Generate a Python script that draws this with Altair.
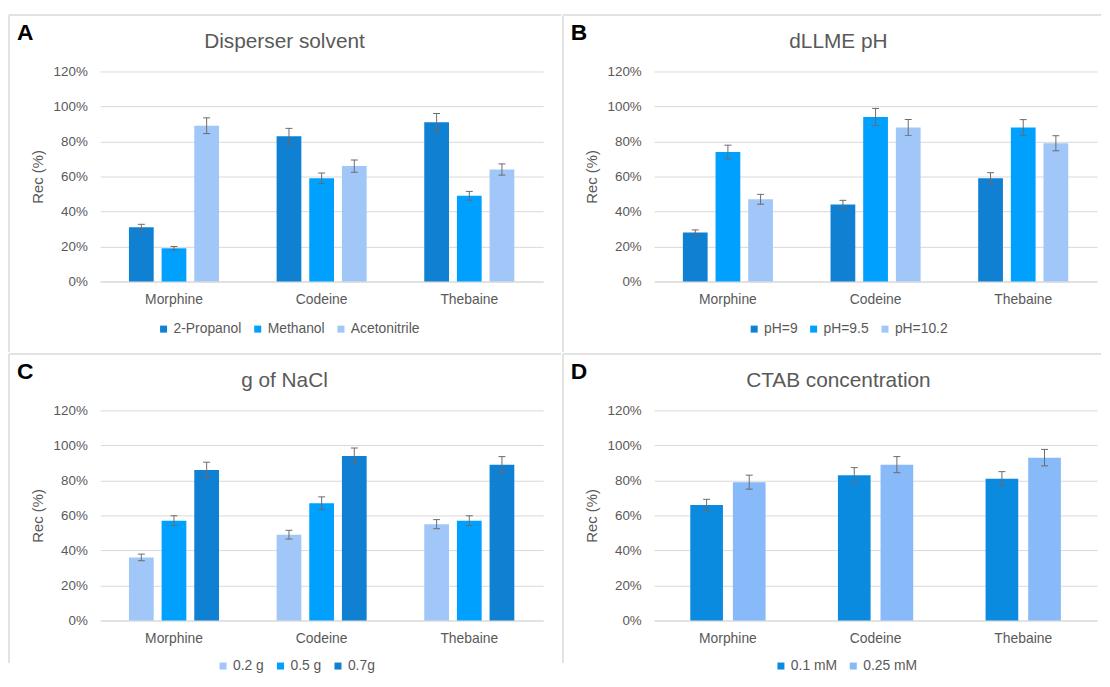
import altair as alt
import pandas as pd

FONT = "Liberation Sans"
TXT = "#595959"
GRID = "#D9D9D9"
ERR = "#6b6b6b"

compounds = ["Morphine", "Codeine", "Thebaine"]

# Panel A: Disperser solvent
a_series = ["2-Propanol", "Methanol", "Acetonitrile"]
a_values = [[31, 19, 89], [83, 59, 66], [91, 49, 64]]
a_errors = [[1.7, 1.0, 4.5], [4.5, 3.0, 3.5], [5.0, 2.5, 3.2]]
a_colors = ["#0F80D2", "#00A1FE", "#A0C7F8"]

# Panel B: dLLME pH
b_series = ["pH=9", "pH=9.5", "pH=10.2"]
b_values = [[28, 74, 47], [44, 94, 88], [59, 88, 79]]
b_errors = [[1.5, 3.9, 2.8], [2.4, 4.9, 4.5], [3.2, 4.5, 4.3]]
b_colors = ["#0F80D2", "#00A1FE", "#A0C7F8"]

# Panel C: g of NaCl
c_series = ["0.2 g", "0.5 g", "0.7g"]
c_values = [[36, 57, 86], [49, 67, 94], [55, 57, 89]]
c_errors = [[1.9, 2.8, 4.4], [2.5, 3.6, 4.5], [2.6, 2.8, 4.6]]
c_colors = ["#A0C7F8", "#00A1FE", "#0F80D2"]

# Panel D: CTAB concentration
d_series = ["0.1 mM", "0.25 mM"]
d_values = [[66, 79], [83, 89], [81, 93]]
d_errors = [[3.2, 4.0], [4.3, 4.6], [4.0, 4.7]]
d_colors = ["#0B8BE0", "#88B9F8"]

y_ticks = [0, 20, 40, 60, 80, 100, 120]

W, H = 447, 212
TOP = -57
LEFT = -92


def make_df(series, values, errors):
    rows = []
    for ci, comp in enumerate(compounds):
        for si, s in enumerate(series):
            v = values[ci][si]
            e = errors[ci][si]
            rows.append({"compound": comp, "series": s, "value": v,
                         "lo": v - e, "hi": v + e})
    return pd.DataFrame(rows)


def panel(letter, title, series, values, errors, colors, legend_x,
          pad_inner, off_inner, right_ext, bottom_ext, legend_y):
    df = make_df(series, values, errors)
    one = pd.DataFrame({"k": [0]})

    x = alt.X("compound:N", sort=compounds,
              scale=alt.Scale(paddingInner=pad_inner, paddingOuter=pad_inner / 2),
              axis=alt.Axis(title=None, labelAngle=0, ticks=False,
                            domainColor=GRID, domainWidth=1,
                            labelFont=FONT, labelFontSize=14, labelColor=TXT,
                            labelPadding=11, grid=False))
    xo = alt.XOffset("series:N", sort=series,
                     scale=alt.Scale(domain=series, paddingInner=off_inner, paddingOuter=0))
    yscale = alt.Scale(domain=[0, 120], nice=False)
    yaxis = alt.Axis(values=y_ticks, labelExpr="datum.value + '%'",
                     labelOverlap=False, tickCount=7,
                     domain=False, ticks=False, gridColor=GRID, gridWidth=1,
                     labelFont=FONT, labelFontSize=13.5, labelColor=TXT,
                     labelPadding=13, title="Rec (%)", titleFont=FONT,
                     titleFontSize=15, titleFontWeight="normal",
                     titleColor=TXT, titleX=-63, titleY=H / 2,
                     titleAngle=270, titleAlign="center",
                     titleBaseline="middle")
    color = alt.Color("series:N", sort=series,
                      scale=alt.Scale(domain=series, range=colors),
                      legend=alt.Legend(title=None, orient="none",
                                        legendX=legend_x, legendY=legend_y,
                                        direction="horizontal",
                                        symbolType="square", symbolSize=50,
                                        symbolStrokeWidth=0,
                                        labelFont=FONT, labelFontSize=14,
                                        labelColor=TXT, labelOffset=3,
                                        columnPadding=9))

    bars = alt.Chart(df).mark_bar().encode(
        x=x, xOffset=xo, y=alt.Y("value:Q", scale=yscale, axis=yaxis), color=color)
    stems = alt.Chart(df).mark_rule(color=ERR, strokeWidth=1).encode(
        x=x, xOffset=xo, y=alt.Y("lo:Q", scale=yscale, axis=yaxis), y2="hi:Q")
    cap_lo = alt.Chart(df).mark_tick(color=ERR, size=7, thickness=1, opacity=1).encode(
        x=x, xOffset=xo, y=alt.Y("lo:Q", scale=yscale, axis=yaxis))
    cap_hi = alt.Chart(df).mark_tick(color=ERR, size=7, thickness=1, opacity=1).encode(
        x=x, xOffset=xo, y=alt.Y("hi:Q", scale=yscale, axis=yaxis))

    border_left = alt.Chart(one).mark_rule(color="#E2E2E2", strokeWidth=2).encode(
        x=alt.value(LEFT), y=alt.value(TOP), y2=alt.value(bottom_ext))
    border_top = alt.Chart(one).mark_rule(color="#E2E2E2", strokeWidth=2).encode(
        y=alt.value(TOP), x=alt.value(LEFT), x2=alt.value(W + right_ext))

    title_txt = alt.Chart(one).mark_text(
        text=title, font=FONT, fontSize=21, color=TXT, align="center",
        baseline="alphabetic").encode(x=alt.value(186), y=alt.value(-24))
    letter_txt = alt.Chart(one).mark_text(
        text=letter, font=FONT, fontSize=23, fontWeight="bold", color="black",
        align="left", baseline="alphabetic").encode(x=alt.value(-84), y=alt.value(-32))

    return alt.layer(bars, border_left, border_top, stems, cap_lo, cap_hi,
                     title_txt, letter_txt).properties(width=W, height=H)


def indep(c):
    return c.resolve_scale(x="independent", y="independent",
                           xOffset="independent", color="independent"
                           ).resolve_legend(color="independent")


pA = panel("A", "Disperser solvent", a_series, a_values, a_errors, a_colors,
           57, 0.39, 0.2424, 18, 283, 253)
pB = panel("B", "dLLME pH", b_series, b_values, b_errors, b_colors,
           94, 0.39, 0.2424, 4, 283, 253)
pC = panel("C", "g of NaCl", c_series, c_values, c_errors, c_colors,
           117, 0.39, 0.2424, 18, 255, 251)
pD = panel("D", "CTAB concentration", d_series, d_values, d_errors, d_colors,
           121, 0.49, 0.233, 4, 255, 251)

chart = indep(alt.vconcat(
    indep(alt.hconcat(pA, pB, spacing=0)),
    indep(alt.hconcat(pC, pD, spacing=0)),
    spacing=0,
)).properties(
    padding={"left": 0, "top": 3, "right": 0, "bottom": 0},
    background="white",
).configure_view(strokeWidth=0)

chart.save("out.html", embed_options={"renderer": "svg", "actions": False})
